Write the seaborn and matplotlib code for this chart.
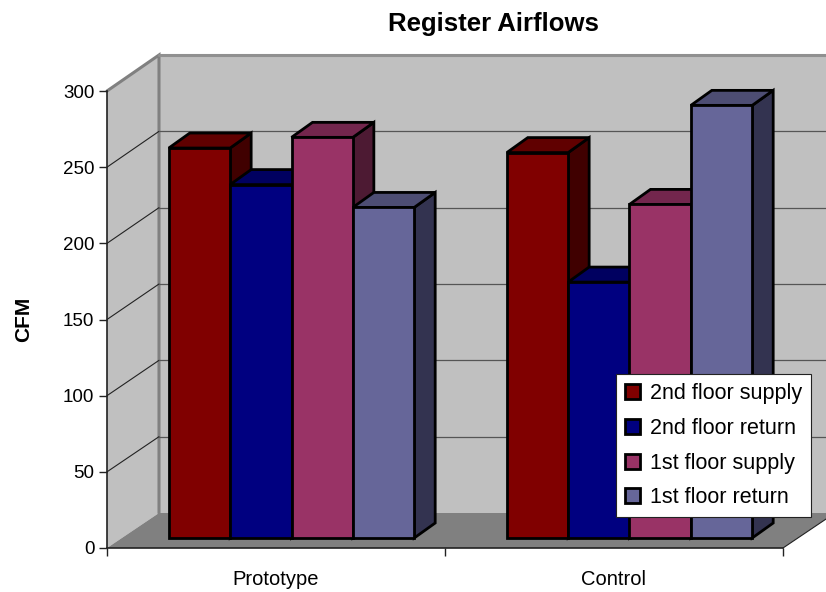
import pandas as pd
import seaborn as sns
import matplotlib.pyplot as plt
from matplotlib.patches import Polygon

W, H = 826, 592

groups = ['Prototype', 'Control']
series = ['2nd floor supply', '2nd floor return', '1st floor supply', '1st floor return']
colors = ['#800000', '#000080', '#993366', '#666699']
top_colors = ['#600000', '#000060', '#73264d', '#4d4d73']
side_colors = ['#400000', '#000040', '#4d1a33', '#333350']
prototype_vals = [256, 232, 263, 217]
control_vals = [253, 168, 219, 284]
yticks = [0, 50, 100, 150, 200, 250, 300]

sns.set_theme(style='white')
plt.rcParams['font.family'] = ['Liberation Sans', 'DejaVu Sans']

rows = []
for name, vals in zip(groups, [prototype_vals, control_vals]):
    for s, v in zip(series, vals):
        rows.append({'group': name, 'series': s, 'cfm': v})
df = pd.DataFrame(rows)


def box(x0, y_top, x1, y_bottom):
    """Axes rectangle from pixel positions of the reference."""
    return [x0 / W, 1 - y_bottom / H, (x1 - x0) / W, (y_bottom - y_top) / H]


fig = plt.figure(figsize=(W / 100, H / 100), dpi=100, facecolor='white')

# walls and floor, in pixels
bg = fig.add_axes([0, 0, 1, 1], zorder=0)
bg.set_xlim(0, W)
bg.set_ylim(H, 0)
bg.axis('off')
bg.add_patch(Polygon([(107, 91), (159, 55), (900, 55), (900, 513), (159, 513), (107, 548)],
                     fc='#c0c0c0', ec='none'))
bg.add_patch(Polygon([(107, 548), (783, 548), (835, 513), (159, 513)], fc='#808080', ec='none'))
bg.plot([107, 159, 159], [91, 55, 513], color='#808080', lw=2.2, solid_joinstyle='miter')
bg.plot([159, 900], [55, 55], color='#909090', lw=2.2)
scale = (548 - 91) / 300
for t in yticks[1:-1]:
    y_front = 548 - t * scale
    y_back = 513 - t * (513 - 55) / 300
    bg.plot([107, 159], [y_front, y_back], color='#222222', lw=0.8)
    bg.plot([159, 900], [y_back, y_back], color='#555555', lw=0.9)
bg.plot([783, 835], [548, 513], color='#222222', lw=0.8)

# front axes with ticks and labels
front = fig.add_axes(box(107, 91, 783, 548), zorder=1)
front.patch.set_visible(False)
front.set_xlim(-0.5, 1.5)
front.set_ylim(0, 300)
front.set_yticks(yticks)
front.set_xticks([0, 1])
front.set_xticklabels(groups)
front.set_xticks([-0.5, 0.5, 1.5], minor=True)
front.tick_params(axis='y', left=True, length=6, width=1, color='#222222', labelsize=13.5, pad=3,
                  labelcolor='black')
front.tick_params(axis='x', which='major', bottom=False, labelsize=14.5, pad=10, labelcolor='black')
front.tick_params(axis='x', which='minor', bottom=True, length=6, width=1, color='#222222')
for side in ['top', 'right']:
    front.spines[side].set_visible(False)
for side in ['left', 'bottom']:
    front.spines[side].set_color('#222222')
    front.spines[side].set_linewidth(1.2)
front.set_ylabel('CFM', fontsize=15, fontweight='bold', color='black')
front.yaxis.set_label_coords(-73.5 / 676, 0.5)

# bars sit a little in from the front edge of the floor
ax = fig.add_axes(box(122.5, 81, 798.5, 538), zorder=2)
sns.barplot(data=df, x='group', y='cfm', hue='series', hue_order=series, order=groups,
            palette=colors, saturation=1, width=0.726, gap=0, edgecolor='black', linewidth=2,
            ax=ax)
ax.set_xlim(-0.5, 1.5)
ax.set_ylim(0, 300)
ax.set_xlabel('')
ax.set_ylabel('')

depth_x = 21 / 338
depth_y = 15 / (457 / 300)

bars = []
for i, cont in enumerate(ax.containers):
    for bar in cont:
        bars.append((bar.get_x(), bar, i))
bars.sort(key=lambda b: b[0])

for order, (x0, bar, i) in enumerate(bars):
    x1 = x0 + bar.get_width()
    h = bar.get_height()
    z = 3 + order
    bar.set_zorder(z + 0.5)
    bar.set_joinstyle('miter')
    bar.set_clip_on(False)
    side = Polygon([(x1, 0), (x1 + depth_x, depth_y), (x1 + depth_x, h + depth_y), (x1, h)],
                   fc=side_colors[i], ec='black', lw=2, joinstyle='miter', zorder=z, clip_on=False)
    top = Polygon([(x0, h), (x0 + depth_x, h + depth_y), (x1 + depth_x, h + depth_y), (x1, h)],
                  fc=top_colors[i], ec='black', lw=2, joinstyle='miter', zorder=z, clip_on=False)
    ax.add_patch(side)
    ax.add_patch(top)

handles, labels = ax.get_legend_handles_labels()
leg = ax.legend(handles, labels, loc='lower left',
                bbox_to_anchor=(616 / W, 1 - 517 / H), bbox_transform=fig.transFigure,
                frameon=True, fancybox=False, framealpha=1, facecolor='white', edgecolor='#222222',
                fontsize=15.5, labelcolor='black', handlelength=0.7, handleheight=0.7,
                handletextpad=0.5, labelspacing=0.64, borderpad=0.4, borderaxespad=0)
leg.set_zorder(50)
leg.get_frame().set_linewidth(0.8)
for patch in leg.get_patches():
    patch.set_linewidth(2)
    patch.set_edgecolor('black')

for name in ax.spines:
    ax.spines[name].set_visible(False)
ax.patch.set_visible(False)
ax.set_xticks([])
ax.set_yticks([])

fig.text(493 / W, 1 - 23.5 / H, 'Register Airflows', ha='center', va='center',
         fontsize=18.5, fontweight='bold', color='black')

fig.savefig('out.png', dpi=100)
